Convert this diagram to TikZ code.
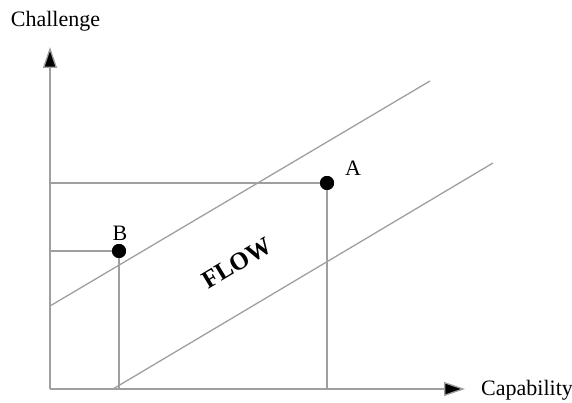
\documentclass[tikz,border=0pt]{standalone}
\usepackage{fontspec}
\setmainfont{Liberation Serif}
\usetikzlibrary{arrows.meta}

\begin{document}
\begin{tikzpicture}[
        x=1pt, y=1pt,
        font=\fontsize{22}{24}\selectfont,
        axis line/.style={draw=gray!75, line width=1.3pt, -{Triangle[length=21pt, width=14pt, fill=black]}},
        guide line/.style={draw=gray!75, line width=1.3pt},
        point dot/.style={circle, fill=black, inner sep=0pt, minimum size=14pt},
    ]

    % Khung ảnh
    \useasboundingbox (0,0) rectangle (572,403);

    % Gốc tọa độ và đầu các trục
    \coordinate (origin) at (50,14);
    \coordinate (ytip) at (50,356);
    \coordinate (xtip) at (465,14);

    % Hai điểm A và B
    \node[point dot] (dotA) at (327,220) {};
    \node[point dot] (dotB) at (119,152) {};

    % Hai đường biên của vùng FLOW
    \coordinate (upper-start) at (50,97);
    \coordinate (upper-end) at (430,322);
    \coordinate (lower-start) at (113,14);
    \coordinate (lower-end) at (493,240);

    % Đường gióng từ A, B về hai trục
    \draw[guide line] (dotA.center -| origin) -- (dotA.center) -- (dotA.center |- origin);
    \draw[guide line] (dotB.center -| origin) -- (dotB.center) -- (dotB.center |- origin);
    \draw[guide line] (upper-start) -- (upper-end);
    \draw[guide line] (lower-start) -- (lower-end);

    % Vẽ lại chấm tròn phía trên đường gióng
    \node[point dot] at (dotA) {};
    \node[point dot] at (dotB) {};

    % Trục tọa độ
    \draw[axis line] (origin) -- (ytip);
    \draw[axis line] (origin) -- (xtip);

    % Nhãn
    \node[anchor=base] (challenge) at (55.5,376) {Challenge};
    \node[anchor=base west, inner sep=0pt] (capability) at (481,7) {Capability};
    \node (labelA) at (353,235) {A};
    \node (labelB) at (120,170) {B};
    \node[rotate=31, font=\fontsize{25}{28}\selectfont\bfseries] (flow) at (237,140) {FLOW};

\end{tikzpicture}
\end{document}
